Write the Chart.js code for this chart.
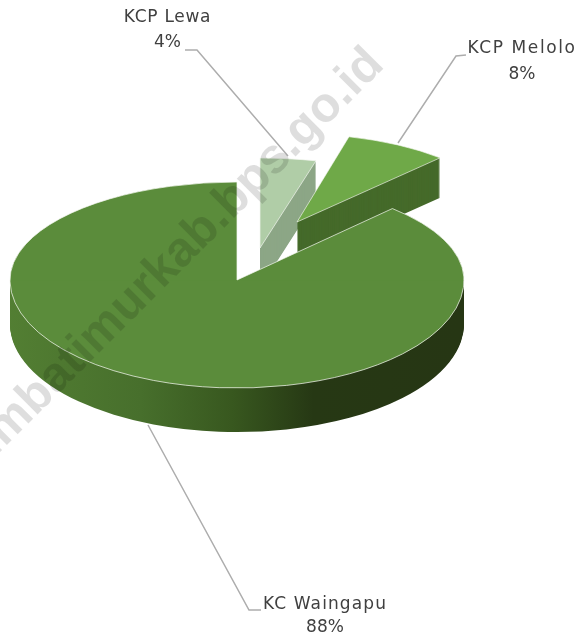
<!DOCTYPE html>
<html>
<head>
<meta charset="utf-8">
<style>html,body{margin:0;padding:0;background:#fff}canvas{display:block}</style>
<script src="https://cdn.jsdelivr.net/npm/chart.js@4"></script>
</head>
<body>
<canvas id="c" width="578" height="640"></canvas>
<script>
const categories = ['KCP Lewa', 'KCP Melolo', 'KC Waingapu'];
const shares = [4, 8, 88];
const topColors = ['#b0cda7', '#6fa948', '#5b8c3b'];
const wallColors = ['#8ca686', '#456a2a', null];
const watermarkText = 'sumbatimurkab.bps.go.id';

// 3D projection of each slice: where its tip lands, its squash, its depth
const projection = [
  {cx: 260, cy: 248, rx: 225, ryUp: 90, ryDown: 90, depth: 40},
  {cx: 297, cy: 222, rx: 209, ryUp: 88, ryDown: 88, depth: 40},
  {cx: 237, cy: 280, rx: 227, ryUp: 98, ryDown: 108, depth: 44}
];
const labelBoxes = [
  {x: 167.5, y: 18, y2: 43, spacing: 0.7, line: [[185,50],[197,50],[288,156]]},
  {x: 522, y: 49, y2: 75, spacing: 1.6, line: [[466,55],[456,56],[398,143]]},
  {x: 325, y: 605, y2: 628, spacing: 1.1, line: [[261,610],[249,610],[148,425]]}
];

function withFill(arc, fill, border) {
  const o = arc.options;
  arc.options = Object.assign(Object.create(o), {backgroundColor: fill, borderWidth: border ? 1 : 0, borderColor: '#f4f7f0'});
  return () => { arc.options = o; };
}
function paint(ctx, arc, cx, cy, rx, ry, fill, border) {
  const R = arc.outerRadius;
  ctx.save();
  ctx.translate(cx, cy);
  ctx.scale(rx / R, ry / R);
  ctx.translate(-arc.x, -arc.y);
  const restore = withFill(arc, fill, border);
  arc.draw(ctx);
  restore();
  ctx.restore();
}
function clipBand(ctx, y0, y1) {
  ctx.save();
  ctx.beginPath();
  ctx.rect(0, y0, 578, y1 - y0);
  ctx.clip();
}
const pie3d = {
  id: 'pie3d',
  beforeDatasetDraw(chart) {
    const ctx = chart.ctx;
    const arcs = chart.getDatasetMeta(0).data;
    const wallGrad = ctx.createLinearGradient(9, 0, 464, 0);
    wallGrad.addColorStop(0, '#537f33');
    wallGrad.addColorStop(0.3, '#476f2c');
    wallGrad.addColorStop(0.5, '#38581f');
    wallGrad.addColorStop(0.68, '#263814');
    wallGrad.addColorStop(1, '#263614');
    arcs.forEach((arc, i) => {
      const p = projection[i];
      if (i < 2) {
        for (let d = p.depth; d > 0; d--) paint(ctx, arc, p.cx, p.cy + d, p.rx, p.ryDown, wallColors[i], false);
        paint(ctx, arc, p.cx, p.cy, p.rx, p.ryUp, topColors[i], true);
      } else {
        clipBand(ctx, p.cy, 640);
        for (let d = p.depth; d > 0; d--) paint(ctx, arc, p.cx, p.cy + d, p.rx, p.ryDown, wallGrad, false);
        paint(ctx, arc, p.cx, p.cy, p.rx, p.ryDown, topColors[i], true);
        ctx.restore();
        clipBand(ctx, 0, p.cy + 0.5);
        paint(ctx, arc, p.cx, p.cy, p.rx, p.ryUp, topColors[i], true);
        ctx.restore();
      }
    });
    return false;
  },
  afterDraw(chart) {
    const ctx = chart.ctx;
    // leader lines and labels
    ctx.save();
    ctx.strokeStyle = '#adadad';
    ctx.lineWidth = 1.5;
    labelBoxes.forEach((b) => {
      ctx.beginPath();
      b.line.forEach((pt, k) => k ? ctx.lineTo(pt[0], pt[1]) : ctx.moveTo(pt[0], pt[1]));
      ctx.stroke();
    });
    ctx.fillStyle = '#404040';
    ctx.textAlign = 'center';
    ctx.textBaseline = 'middle';
    categories.forEach((name, i) => {
      ctx.font = '17px "DejaVu Sans"';
      ctx.letterSpacing = labelBoxes[i].spacing + 'px';
      ctx.fillText(name, labelBoxes[i].x, labelBoxes[i].y);
      ctx.letterSpacing = '0px';
      ctx.fillText(shares[i] + '%', labelBoxes[i].x, labelBoxes[i].y2);
    });
    ctx.restore();
    // watermark
    ctx.save();
    ctx.translate(-36, 488);
    ctx.rotate(-Math.PI / 4);
    ctx.font = 'bold 49px "Liberation Sans"';
    ctx.textAlign = 'left';
    ctx.textBaseline = 'alphabetic';
    ctx.fillStyle = 'rgba(0,0,0,0.13)';
    ctx.fillText(watermarkText, 0, 0);
    ctx.restore();
  }
};
new Chart(document.getElementById('c'), {
  type: 'pie',
  data: {
    labels: categories,
    datasets: [{data: shares, backgroundColor: topColors, borderWidth: 0}]
  },
  options: {
    responsive: false,
    animation: false,
    layout: {padding: {left: 10, right: 104, top: 53, bottom: 133}},
    plugins: {legend: {display: false}, tooltip: {enabled: false}}
  },
  plugins: [pie3d]
});
</script>
</body>
</html>
